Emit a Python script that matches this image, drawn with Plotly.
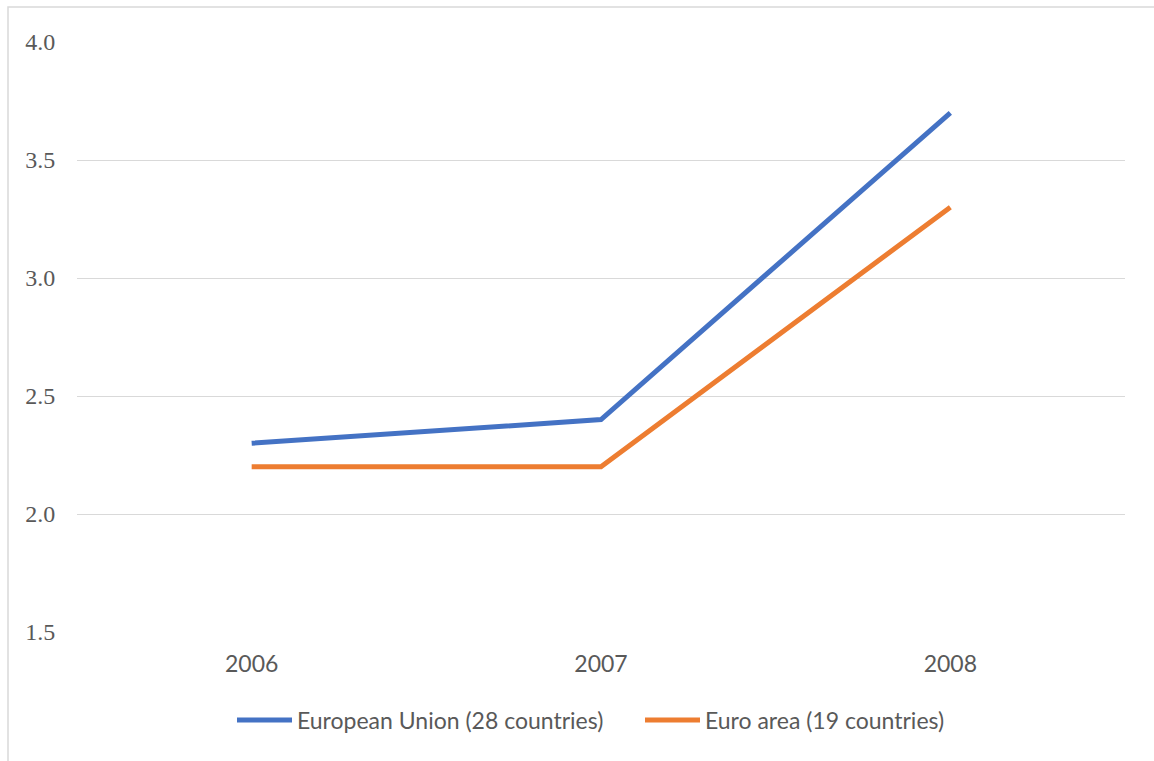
import plotly.graph_objects as go

years = ["2006", "2007", "2008"]
eu28 = [2.3, 2.4, 3.7]
ea19 = [2.2, 2.2, 3.3]
y_ticks = [1.5, 2.0, 2.5, 3.0, 3.5, 4.0]
y_labels = ["1.5", "2.0", "2.5", "3.0", "3.5", "4.0"]

W, H = 1154, 761
L, R, T, B = 77, 29, 42, 129
pw, ph = W - L - R, H - T - B

def px_x(x):
    return (x - L) / pw

def px_y(y):
    return (H - B - y) / ph

fig = go.Figure()
fig.add_trace(go.Scatter(x=years, y=eu28, mode="lines", name="European Union (28 countries)",
                         line=dict(color="#4472C4", width=5)))
fig.add_trace(go.Scatter(x=years, y=ea19, mode="lines", name="Euro area (19 countries)",
                         line=dict(color="#ED7D31", width=5)))

fig.update_layout(
    width=W, height=H,
    margin=dict(l=L, r=R, t=T, b=B),
    paper_bgcolor="white", plot_bgcolor="white",
    showlegend=True,
    legend=dict(orientation="h", x=px_x(232), xanchor="left", y=px_y(720), yanchor="middle",
                font=dict(family="Lato", size=23, color="#595959"),
                itemwidth=55, entrywidth=338, tracegroupgap=0, bgcolor="rgba(0,0,0,0)"),
    xaxis=dict(type="category", range=[-0.5, 2.5], showgrid=False, zeroline=False, showline=False,
               ticks="outside", ticklen=0, ticklabelstandoff=11,
               tickfont=dict(family="Lato", size=23, color="#595959")),
    yaxis=dict(range=[1.5, 4.0], tickvals=y_ticks, ticktext=y_labels, showgrid=True,
               gridcolor="#d9d9d9", gridwidth=1.3, zeroline=False, showline=False,
               ticks="outside", ticklen=0, ticklabelstandoff=16,
               tickfont=dict(family="Liberation Serif, Times New Roman, serif", size=24, color="#595959")),
    shapes=[dict(type="rect", xref="paper", yref="paper",
                 x0=px_x(8), x1=px_x(1300), y0=px_y(900), y1=px_y(7),
                 line=dict(color="#d9d9d9", width=1.5), fillcolor="rgba(0,0,0,0)", layer="below")],
)

fig.write_html("out.html")
